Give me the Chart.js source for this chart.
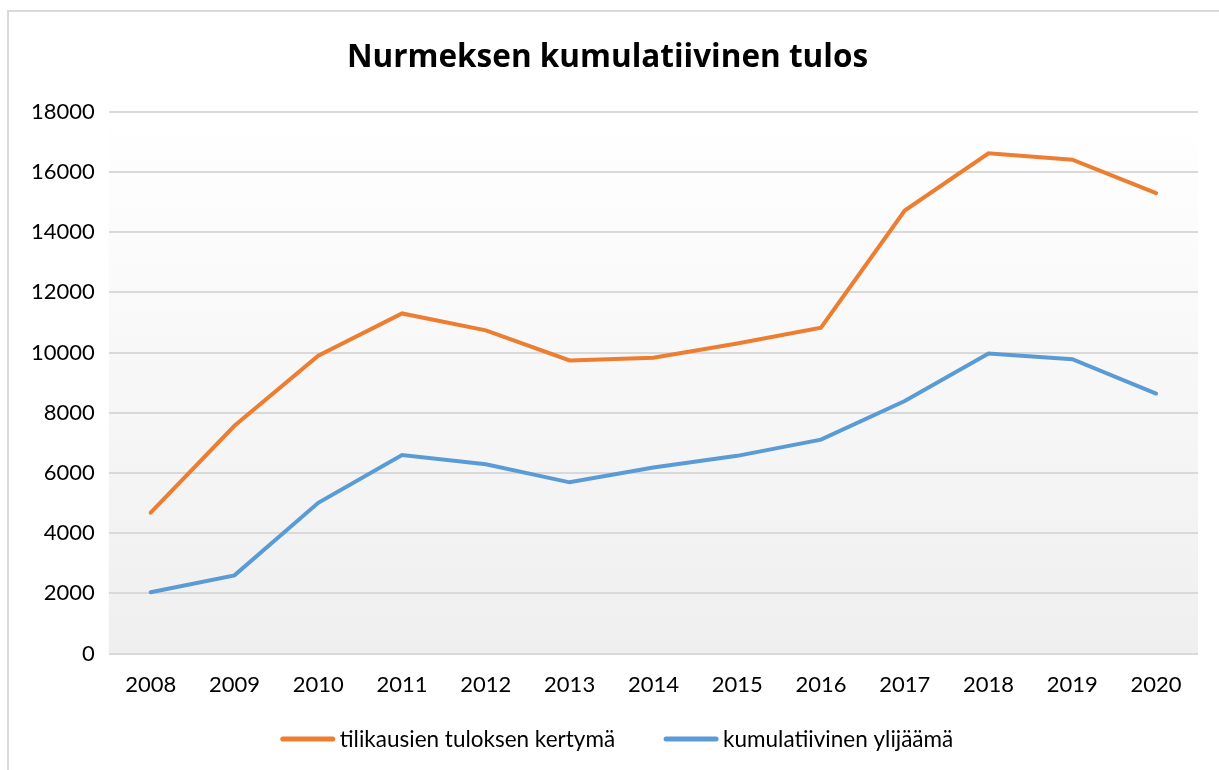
<!DOCTYPE html>
<html>
<head>
<meta charset="utf-8">
<script src="https://cdn.jsdelivr.net/npm/chart.js@4/dist/chart.umd.min.js"></script>
<style>
    body { margin: 0; overflow: hidden; background: #fff; }
    #frame { position: absolute; left: 7px; top: 10px; width: 1240px; height: 780px; border: 2px solid #d9d9d9; }
    #box { position: absolute; left: 0; top: 0; width: 1210px; height: 758px; }
</style>
</head>
<body>
<div id="frame"><div id="box"><canvas id="tulosChart"></canvas></div></div>
<script>
const vuodet = ['2008', '2009', '2010', '2011', '2012', '2013', '2014', '2015', '2016', '2017', '2018', '2019', '2020'];
const tilikausienKertyma = [4680, 7570, 9900, 11300, 10740, 9740, 9830, 10300, 10830, 14720, 16620, 16410, 15300];
const kumulatiivinenYlijaama = [2040, 2600, 5010, 6600, 6290, 5690, 6180, 6570, 7110, 8390, 9970, 9780, 8640];
const yMin = 0;
const yMax = 18000;
const yStep = 2000;

// harmaa liukuväri kuvaajan taustalle
const taustaPlugin = {
    id: 'tausta',
    beforeDraw(chart) {
        const a = chart.chartArea;
        const ctx = chart.ctx;
        const g = ctx.createLinearGradient(0, a.top, 0, a.bottom);
        g.addColorStop(0, '#ffffff');
        g.addColorStop(1, '#efefef');
        ctx.save();
        ctx.fillStyle = g;
        ctx.fillRect(a.left, a.top, a.right - a.left, a.bottom - a.top);
        ctx.restore();
    }
};

// selite alas, Excelin tapaan: viiva + teksti
const selitePlugin = {
    id: 'selite',
    afterDraw(chart) {
        const ctx = chart.ctx;
        const y = 727;
        const viiva = 54, vali = 5, erotus = 49;
        ctx.save();
        ctx.font = '22.5px Lato';
        ctx.textBaseline = 'middle';
        const sets = chart.data.datasets;
        const leveydet = sets.map(ds => ctx.measureText(ds.label).width);
        let total = 0;
        leveydet.forEach((w, i) => { total += viiva + vali + w + (i > 0 ? erotus : 0); });
        let x = chart.width / 2 + 3 - total / 2;
        sets.forEach((ds, i) => {
            ctx.strokeStyle = ds.borderColor;
            ctx.lineWidth = 5;
            ctx.lineCap = 'round';
            ctx.beginPath();
            ctx.moveTo(x + 2, y);
            ctx.lineTo(x + viiva - 2, y);
            ctx.stroke();
            ctx.fillStyle = '#000';
            ctx.fillText(ds.label, x + viiva + vali, y + 1);
            x += viiva + vali + leveydet[i] + erotus;
        });
        ctx.restore();
    }
};

new Chart(document.getElementById('tulosChart'), {
    type: 'line',
    data: {
        labels: vuodet,
        datasets: [
            {
                label: 'tilikausien tuloksen kertymä',
                data: tilikausienKertyma,
                borderColor: '#ED7D31',
                backgroundColor: '#ED7D31',
                borderWidth: 4,
                borderCapStyle: 'round',
                pointRadius: 0,
                tension: 0
            },
            {
                label: 'kumulatiivinen ylijäämä',
                data: kumulatiivinenYlijaama,
                borderColor: '#5B9BD5',
                backgroundColor: '#5B9BD5',
                borderWidth: 4,
                borderCapStyle: 'round',
                pointRadius: 0,
                tension: 0
            }
        ]
    },
    options: {
        responsive: true,
        maintainAspectRatio: false,
        animation: false,
        layout: { padding: { left: 8, right: 21, top: 0, bottom: 54 } },
        plugins: {
            title: {
                display: true,
                text: 'Nurmeksen kumulatiivinen tulos',
                color: '#000',
                font: { family: 'Open Sans', size: 31.5, weight: 'bold' },
                padding: { top: 27, bottom: 35 }
            },
            legend: { display: false },
            tooltip: { enabled: false }
        },
        scales: {
            x: {
                offset: true,
                grid: { display: false, drawTicks: false },
                border: { display: false },
                ticks: { color: '#000', font: { family: 'Lato', size: 22 }, padding: 18 }
            },
            y: {
                min: yMin,
                max: yMax,
                grid: { color: '#d9d9d9', lineWidth: 2, drawTicks: false },
                border: { display: false },
                ticks: {
                    stepSize: yStep,
                    color: '#000',
                    font: { family: 'Lato', size: 22 },
                    padding: 14,
                    callback: v => String(v)
                }
            }
        }
    },
    plugins: [taustaPlugin, selitePlugin]
});
</script>
</body>
</html>
